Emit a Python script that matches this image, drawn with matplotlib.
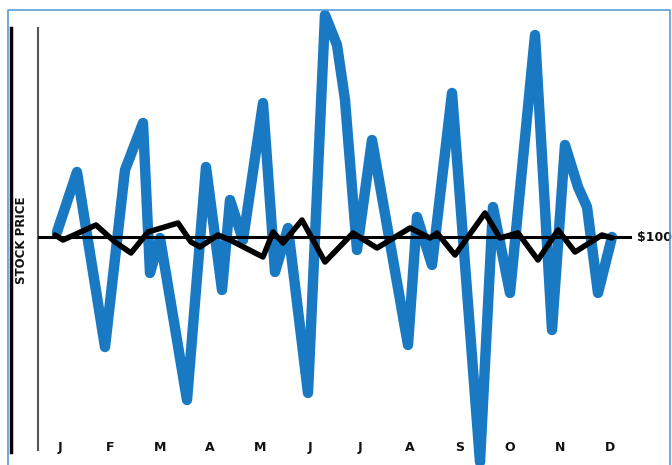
import matplotlib
matplotlib.use("Agg")
import matplotlib.pyplot as plt
from matplotlib.lines import Line2D

# month labels, J..D at x = 0..11
months = ["J", "F", "M", "A", "M", "J", "J", "A", "S", "O", "N", "D"]

# the wild stock (blue)
blue_x = [-0.06, 0.34, 0.90, 1.30, 1.66, 1.80, 2.00, 2.54, 2.92, 3.24, 3.40, 3.66,
          4.06, 4.30, 4.56, 4.96, 5.30, 5.54, 5.70, 5.94, 6.24, 6.96, 7.14, 7.44,
          7.84, 8.40, 8.66, 9.00, 9.50, 9.84, 10.10, 10.36, 10.54, 10.76, 11.04]
blue_y = [101.0, 113.0, 78.0, 113.4, 122.8, 92.8, 99.8, 67.4, 114.0, 89.4, 107.4, 99.4,
          126.8, 93.0, 101.8, 68.8, 144.4, 138.4, 127.4, 97.4, 119.4, 78.4, 104.0, 94.4,
          128.8, 55.0, 106.0, 88.8, 140.4, 81.4, 118.4, 110.0, 106.0, 88.8, 100.0]

# the calm stock (black)
black_x = [-0.10, 0.06, 0.72, 1.10, 1.42, 1.76, 2.36, 2.62, 2.80, 3.16, 3.40, 4.06,
           4.26, 4.46, 4.84, 5.30, 5.86, 6.34, 7.00, 7.40, 7.54, 7.90, 8.50, 8.80,
           9.16, 9.56, 9.96, 10.30, 10.84, 11.04]
black_y = [100.4, 99.4, 102.4, 99.0, 96.8, 101.0, 102.8, 99.0, 98.0, 100.4, 99.4, 96.0,
           101.0, 98.8, 103.4, 95.0, 100.8, 97.8, 101.8, 99.8, 100.8, 96.4, 104.8, 99.8,
           100.8, 95.4, 101.4, 97.0, 100.4, 99.8]

ref_price = 100

W, H = 672, 465
fig = plt.figure(figsize=(W / 100, H / 100), dpi=100)
ax = fig.add_axes([38 / W, 0, (W - 38) / W, 1])
ax.set_xlim(-0.44, 12.24)
ax.set_ylim(54.4, 147.4)

ax.plot(blue_x, blue_y, color="#1a79c3", lw=7.5, solid_joinstyle="round",
        solid_capstyle="round", zorder=2)
ax.plot([-0.44, 11.4], [ref_price, ref_price], color="black", lw=2.2, zorder=3)
ax.plot(black_x, black_y, color="black", lw=4, solid_joinstyle="round",
        solid_capstyle="round", zorder=4)

for s in ["top", "right", "bottom"]:
    ax.spines[s].set_visible(False)
ax.spines["left"].set_color("#555555")
ax.spines["left"].set_linewidth(1.5)
ax.spines["left"].set_bounds(57.4, 141.8)
ax.set_xticks([])
ax.set_yticks([])
ax.patch.set_visible(False)

for i, m in enumerate(months):
    ax.text(i, 58.0, m, ha="center", va="center", fontsize=9,
            fontweight="bold", color="#111111")
ax.text(11.54, ref_price, "$100", ha="left", va="center", fontsize=9,
        fontweight="bold", color="#111111")

fig.text(22 / W, 1 - 240 / H, "STOCK PRICE", rotation=90, ha="center",
         va="center", fontsize=8.5, fontweight="bold", color="#111111")

# thick black bar at far left and the thin blue frame
fig.add_artist(Line2D([11 / W, 11 / W], [1 - 28 / H, 1 - 452 / H],
                      color="black", lw=2.5))
fig.add_artist(Line2D([7.5 / W, 7.5 / W, 669.5 / W, 669.5 / W],
                      [0, 1 - 10 / H, 1 - 10 / H, 0],
                      color="#5b9bd5", lw=1.2))

fig.savefig("out.png", dpi=100)
